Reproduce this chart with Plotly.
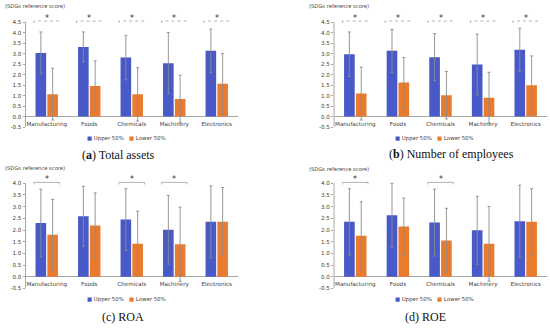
import plotly.graph_objects as go

W, H = 550, 329

categories = ["Manufacturing", "Foods", "Chemicals", "Machinery", "Electronics"]
series_names = ["Upper 50%", "Lower 50%"]

# (a) Total assets
a_upper = [3.03, 3.32, 2.81, 2.54, 3.13]
a_upper_sd = [1.00, 0.71, 1.06, 1.46, 1.04]
a_lower = [1.07, 1.46, 1.06, 0.84, 1.56]
a_lower_sd = [1.23, 1.20, 1.27, 1.13, 1.44]
a_sig = [True, True, True, True, True]

# (b) Number of employees
b_upper = [2.97, 3.13, 2.83, 2.48, 3.18]
b_upper_sd = [1.06, 1.02, 1.12, 1.45, 1.03]
b_lower = [1.10, 1.62, 1.02, 0.90, 1.49]
b_lower_sd = [1.26, 1.19, 1.13, 1.21, 1.40]
b_sig = [True, True, True, True, True]

# (c) ROA
c_upper = [2.30, 2.59, 2.45, 2.01, 2.35]
c_upper_sd = [1.45, 1.28, 1.32, 1.47, 1.54]
c_lower = [1.80, 2.19, 1.41, 1.39, 2.36]
c_lower_sd = [1.51, 1.40, 1.40, 1.59, 1.46]
c_sig = [True, False, True, True, False]

# (d) ROE
d_upper = [2.35, 2.63, 2.32, 1.99, 2.38]
d_upper_sd = [1.42, 1.37, 1.43, 1.45, 1.54]
d_lower = [1.76, 2.15, 1.55, 1.41, 2.35]
d_lower_sd = [1.45, 1.22, 1.38, 1.60, 1.42]
d_sig = [True, False, True, False, False]

titles = ["(<b>a</b>) Total assets", "(<b>b</b>) Number of employees", "(c) ROA", "(d) ROE"]
y_axis_label = "(SDGs reference score)"

BLUE = "#4859C8"
ORANGE = "#E97B2F"
GRAY = "#8C8C8C"
TXT = "#404040"
SANS = "DejaVu Sans"
SERIF = "Liberation Serif"

panels = [
    dict(up=a_upper, ups=a_upper_sd, lo=a_lower, los=a_lower_sd, sig=a_sig,
         xpx=(25.5, 238), ypx=(11.7, 128.3), yr=(-0.5, 5.0), ytop=4.5, br=4.55, dash="dot",
         lab=(3, 6), leg=(126, 140), tit=(118, 156)),
    dict(up=b_upper, ups=b_upper_sd, lo=b_lower, los=b_lower_sd, sig=b_sig,
         xpx=(334, 547), ypx=(11.7, 128.3), yr=(-0.5, 5.0), ytop=4.5, br=4.55, dash="dot",
         lab=(307, 6), leg=(434, 140), tit=(451, 155)),
    dict(up=c_upper, ups=c_upper_sd, lo=c_lower, los=c_lower_sd, sig=c_sig,
         xpx=(25.5, 238), ypx=(174.4, 291.1), yr=(-0.5, 4.45), ytop=4.0, br=4.04, dash="solid",
         lab=(3, 170), leg=(126, 302), tit=(123, 320)),
    dict(up=d_upper, ups=d_upper_sd, lo=d_lower, los=d_lower_sd, sig=d_sig,
         xpx=(334, 547), ypx=(174.4, 291.1), yr=(-0.5, 4.45), ytop=4.0, br=4.04, dash="solid",
         lab=(307, 171), leg=(434, 302), tit=(425, 320)),
]

fig = go.Figure()
layout = dict(
    width=W, height=H, margin=dict(l=0, r=0, t=0, b=0),
    paper_bgcolor="white", plot_bgcolor="white",
    barmode="group", bargap=0.445, bargroupgap=0.1,
    showlegend=False,
)
annotations = []
shapes = []
xs = list(range(len(categories)))

for k, p in enumerate(panels):
    sfx = "" if k == 0 else str(k + 1)
    xa, ya = "x" + sfx, "y" + sfx
    xdom = [p["xpx"][0] / W, p["xpx"][1] / W]
    ydom = [1 - p["ypx"][1] / H, 1 - p["ypx"][0] / H]
    yr = p["yr"]
    zero_pos = ydom[0] + (0 - yr[0]) / (yr[1] - yr[0]) * (ydom[1] - ydom[0])

    for vals, sds, col, nm in [(p["up"], p["ups"], BLUE, series_names[0]),
                               (p["lo"], p["los"], ORANGE, series_names[1])]:
        fig.add_trace(go.Bar(
            x=xs, y=vals, name=nm, marker=dict(color=col, line=dict(width=0)),
            error_y=dict(type="data", array=sds, visible=True, color=GRAY, thickness=0.9, width=1.5),
            xaxis=xa, yaxis=ya, offsetgroup=nm,
        ))

    nt = int(round((p["ytop"] - yr[0]) / 0.5)) + 1
    tickvals = [yr[0] + 0.5 * i for i in range(nt)]
    layout["xaxis" + sfx] = dict(
        domain=xdom, anchor="free", position=zero_pos, range=[-0.5, len(categories) - 0.5],
        tickmode="array", tickvals=xs, ticktext=categories, showline=False, showgrid=False,
        zeroline=False, ticks="", ticklabelstandoff=3,
        tickfont=dict(family=SANS, size=5.6, color=TXT),
    )
    layout["yaxis" + sfx] = dict(
        domain=ydom, anchor=xa, range=list(yr), tickmode="array", tickvals=tickvals,
        ticktext=[f"{v:.1f}" for v in tickvals], showgrid=False, showline=False,
        zeroline=True, zerolinecolor="#A6A6A6", zerolinewidth=1,
        ticks="outside", ticklen=2, tickcolor="#A6A6A6",
        tickfont=dict(family=SANS, size=5.6, color=TXT),
    )
    # y axis line
    shapes.append(dict(type="line", xref="paper", yref=ya, x0=xdom[0], x1=xdom[0],
                       y0=yr[0], y1=p["ytop"], line=dict(color="#A6A6A6", width=1)))
    # significance brackets
    for i, s in enumerate(p["sig"]):
        if not s:
            continue
        L = p["br"]
        d = 0.09
        shapes.append(dict(type="path", xref=xa, yref=ya,
                           path=f"M {i-0.3},{L-d} L {i-0.3},{L} L {i+0.3},{L} L {i+0.3},{L-d}",
                           line=dict(color="#A0A0A0", width=0.8, dash=p["dash"])))
        annotations.append(dict(xref=xa, yref=ya, x=i, y=L, text="*", showarrow=False,
                                yanchor="bottom", yshift=-4,
                                font=dict(family=SANS, size=8, color="#333333")))
    # y axis label
    annotations.append(dict(xref="paper", yref="paper", x=p["lab"][0] / W, y=1 - p["lab"][1] / H,
                            xanchor="left", yanchor="middle", text=y_axis_label, showarrow=False,
                            font=dict(family=SANS, size=5.2, color=TXT)))
    # legend
    leg_text = (f'<span style="color:{BLUE}">■</span> {series_names[0]}&nbsp;&nbsp;&nbsp;'
                f'<span style="color:{ORANGE}">■</span> {series_names[1]}')
    annotations.append(dict(xref="paper", yref="paper", x=p["leg"][0] / W, y=1 - p["leg"][1] / H,
                            xanchor="center", yanchor="middle", text=leg_text, showarrow=False,
                            font=dict(family=SANS, size=5.4, color=TXT)))
    # panel title
    annotations.append(dict(xref="paper", yref="paper", x=p["tit"][0] / W, y=1 - p["tit"][1] / H,
                            xanchor="center", yanchor="middle", text=titles[k], showarrow=False,
                            font=dict(family=SERIF, size=12, color="#111111")))

layout["annotations"] = annotations
layout["shapes"] = shapes
fig.update_layout(**layout)
fig.write_html(
    "out.html",
    config={"displayModeBar": False},
    post_script="document.body.style.margin='0';document.body.style.overflow='hidden';",
)
